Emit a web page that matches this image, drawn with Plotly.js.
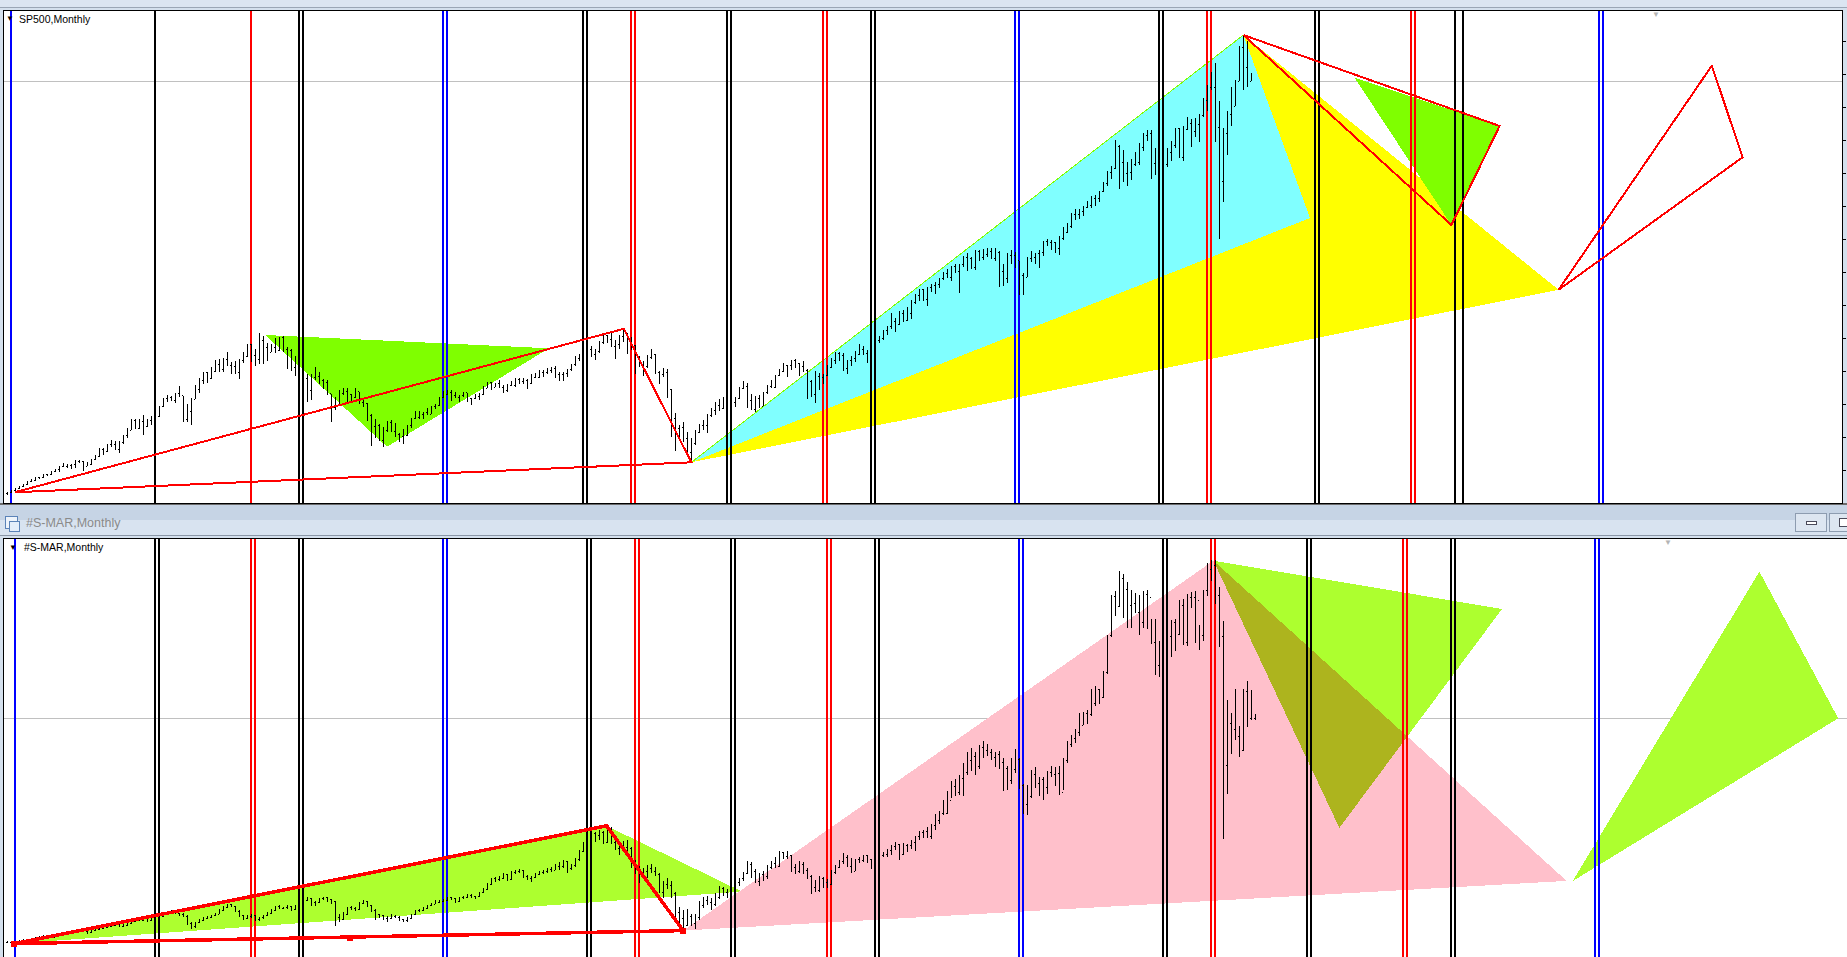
<!DOCTYPE html>
<html><head><meta charset="utf-8">
<script src="https://cdn.plot.ly/plotly-3.0.1.min.js"></script>
<style>html,body{margin:0;padding:0;background:#d4e0ed;overflow:hidden}#chart{width:1847px;height:957px}
#chart .scatterlayer path,#chart .shapelayer path{shape-rendering:crispEdges}</style>
</head><body><div id="chart"></div>
<script>
// ---------------- SP500 monthly (Dec 1994 .. Nov 2020), bar index 0..311 ----------------
const spOpen=[453.7,459.3,470.4,487.4,500.7,514.7,533.4,544.8,562.1,561.9,584.4,581.5,605.4,615.9,636.0,640.4,645.5,654.2,669.1,670.6,639.9,652.0,687.3,705.3,757.0,740.7,786.2,790.8,757.1,801.3,848.3,885.1,954.3,899.5,947.3,914.6,955.4,970.4,980.3,1049.3,1101.8,1111.8,1090.8,1133.8,1120.7,957.3,1017.0,1098.7,1163.6,1229.2,1279.6,1238.3,1286.4,1335.2,1301.8,1372.7,1328.7,1320.4,1282.7,1362.9,1388.9,1469.3,1394.5,1366.4,1498.6,1452.4,1420.6,1454.6,1430.8,1517.7,1436.5,1429.4,1315.2,1320.3,1366.0,1239.9,1160.3,1249.5,1255.8,1224.4,1211.2,1133.6,1040.9,1059.8,1139.5,1148.1,1130.2,1106.7,1147.4,1076.9,1067.1,989.8,911.6,916.1,815.3,885.8,936.3,879.8,855.7,841.2,848.2,916.9,963.6,974.5,990.3,1008.0,996.0,1050.7,1058.2,1111.9,1131.1,1144.9,1126.2,1107.3,1120.7,1140.8,1101.7,1104.2,1114.6,1130.2,1173.8,1211.9,1181.3,1203.6,1180.6,1156.9,1191.5,1191.3,1234.2,1220.3,1228.8,1207.0,1249.5,1248.3,1280.1,1280.7,1294.9,1310.6,1270.1,1270.2,1276.7,1303.8,1335.9,1377.9,1400.6,1418.3,1438.2,1406.8,1420.9,1482.4,1530.6,1503.4,1455.3,1474.0,1526.8,1549.4,1481.1,1468.4,1378.6,1330.6,1322.7,1385.6,1400.4,1280.0,1267.4,1282.8,1166.4,968.8,896.2,903.3,825.9,735.1,797.9,872.8,919.1,919.3,987.5,1020.6,1057.1,1036.2,1095.6,1115.1,1073.9,1104.5,1169.4,1186.7,1089.4,1030.7,1101.6,1049.3,1141.2,1183.3,1180.6,1257.6,1286.1,1327.2,1325.8,1363.6,1345.2,1320.6,1292.3,1218.9,1131.4,1253.3,1247.0,1257.6,1312.4,1365.7,1408.5,1397.9,1310.3,1362.2,1379.3,1406.6,1440.7,1412.2,1416.2,1426.2,1498.1,1514.7,1569.2,1597.6,1630.7,1606.3,1685.7,1633.0,1681.6,1756.5,1805.8,1848.4,1782.6,1859.5,1872.3,1884.0,1923.6,1960.2,1930.7,2003.4,1972.3,2018.1,2067.6,2058.9,1995.0,2104.5,2067.9,2085.5,2107.4,2063.1,2103.8,1972.2,1920.0,2079.4,2080.4,2043.9,1940.2,1932.2,2059.7,2065.3,2097.0,2098.9,2173.6,2171.0,2168.3,2126.2,2198.8,2238.8,2278.9,2363.6,2362.7,2384.2,2411.8,2423.4,2470.3,2471.7,2519.4,2575.3,2647.6,2673.6,2823.8,2713.8,2640.9,2648.1,2705.3,2718.4,2816.3,2901.5,2914.0,2711.7,2760.2,2506.9,2704.1,2784.5,2834.4,2945.8,2752.1,2941.8,2980.4,2926.5,2976.7,3037.6,3141.0,3230.8,3225.5,2954.2,2584.6,2912.4,3044.3,3100.3,3271.1,3500.3,3363.0,3270.0];
const spHigh=[466.9,472,489,503,515,535,551,564,565,587,588,608,622,638,664,656,656,681,680,675,670,690,714,762,762,794,818,815,812,851,899,961,961,960,987,962,986,993,1051,1106,1130,1122,1139,1190,1122,1066,1104,1193,1245,1280,1283,1317,1363,1376,1377,1421,1354,1358,1373,1424,1473,1478,1444,1553,1527,1481,1474,1517,1525,1531,1454,1438,1390,1384,1376,1267,1269,1316,1287,1239,1226,1136,1111,1164,1173,1176,1131,1173,1148,1106,1071,994,965,925,907,951,954,935,864,895,924,965,1015,1015,1011,1040,1054,1063,1112,1155,1158,1163,1150,1128,1146,1141,1109,1132,1142,1188,1217,1217,1212,1229,1192,1199,1219,1246,1245,1243,1233,1270,1276,1295,1297,1310,1318,1326,1285,1281,1306,1340,1390,1407,1432,1441,1462,1439,1498,1535,1540,1556,1503,1539,1576,1553,1524,1471,1396,1359,1397,1440,1405,1292,1314,1303,1167,1007,919,943,876,833,888,930,957,996,1040,1081,1102,1113,1130,1150,1113,1181,1220,1206,1132,1120,1129,1150,1196,1227,1263,1303,1345,1333,1367,1371,1346,1357,1307,1230,1292,1277,1270,1334,1378,1420,1422,1415,1363,1392,1426,1475,1465,1434,1448,1510,1530,1570,1598,1687,1654,1698,1709,1730,1775,1814,1849,1850,1867,1884,1897,1925,1968,1991,2005,2019,2019,2076,2094,2072,2119,2117,2126,2135,2130,2133,2113,2021,2094,2117,2104,2044,1962,2073,2111,2100,2121,2178,2194,2188,2170,2214,2278,2301,2371,2401,2398,2418,2454,2484,2491,2520,2582,2657,2695,2873,2835,2801,2718,2742,2791,2849,2916,2941,2940,2816,2800,2708,2814,2860,2950,2954,2965,3028,3014,3022,3050,3155,3248,3338,3394,3137,2955,3068,3233,3280,3515,3588,3550,3330];
const spLow=[443.3,457,468,481,500,511,530,542,553,561,572,580,601,597,633,627,624,630,662,605,639,649,685,703,716,737,773,756,733,793,832,885,893,891,855,907,924,912,979,1045,1076,1085,1074,1114,940,939,923,1098,1137,1205,1212,1236,1282,1287,1281,1328,1268,1268,1233,1347,1387,1350,1325,1339,1339,1361,1418,1416,1427,1419,1305,1294,1254,1274,1215,1081,1091,1232,1203,1165,1124,944,1026,1054,1124,1081,1074,1106,1063,1048,952,775,833,815,768,873,872,840,806,789,847,902,963,962,960,990,995,1031,1053,1105,1124,1087,1105,1076,1113,1078,1060,1102,1090,1128,1173,1163,1180,1176,1137,1146,1188,1183,1201,1201,1168,1201,1246,1245,1253,1268,1280,1245,1219,1224,1253,1290,1327,1360,1385,1403,1389,1364,1416,1476,1484,1454,1371,1439,1490,1407,1435,1270,1316,1257,1312,1373,1272,1200,1248,1107,840,741,815,805,735,667,784,866,888,869,979,992,1020,1030,1086,1071,1045,1102,1167,1041,1028,1011,1040,1049,1131,1173,1174,1257,1284,1249,1300,1311,1258,1283,1101,1115,1075,1159,1202,1259,1311,1340,1358,1292,1267,1325,1354,1397,1403,1343,1399,1426,1485,1501,1536,1581,1560,1605,1628,1633,1646,1746,1768,1770,1737,1834,1815,1860,1915,1930,1905,1964,1821,2001,1972,1988,1981,2040,2048,2067,2056,2044,1867,1872,1893,2019,1993,1812,1810,1932,2033,2025,1992,2075,2148,2120,2097,2084,2188,2233,2271,2322,2329,2352,2406,2407,2417,2446,2515,2557,2605,2672,2533,2586,2553,2595,2691,2698,2796,2864,2604,2631,2347,2444,2682,2723,2812,2751,2728,2940,2822,2891,2855,3030,3070,3214,2855,2192,2448,2766,2965,3100,3271,3209,3234,3270];
const spClose=[459.3,470.4,487.4,500.7,514.7,533.4,544.8,562.1,561.9,584.4,581.5,605.4,615.9,636.0,640.4,645.5,654.2,669.1,670.6,639.9,652.0,687.3,705.3,757.0,740.7,786.2,790.8,757.1,801.3,848.3,885.1,954.3,899.5,947.3,914.6,955.4,970.4,980.3,1049.3,1101.8,1111.8,1090.8,1133.8,1120.7,957.3,1017.0,1098.7,1163.6,1229.2,1279.6,1238.3,1286.4,1335.2,1301.8,1372.7,1328.7,1320.4,1282.7,1362.9,1388.9,1469.3,1394.5,1366.4,1498.6,1452.4,1420.6,1454.6,1430.8,1517.7,1436.5,1429.4,1315.2,1320.3,1366.0,1239.9,1160.3,1249.5,1255.8,1224.4,1211.2,1133.6,1040.9,1059.8,1139.5,1148.1,1130.2,1106.7,1147.4,1076.9,1067.1,989.8,911.6,916.1,815.3,885.8,936.3,879.8,855.7,841.2,848.2,916.9,963.6,974.5,990.3,1008.0,996.0,1050.7,1058.2,1111.9,1131.1,1144.9,1126.2,1107.3,1120.7,1140.8,1101.7,1104.2,1114.6,1130.2,1173.8,1211.9,1181.3,1203.6,1180.6,1156.9,1191.5,1191.3,1234.2,1220.3,1228.8,1207.0,1249.5,1248.3,1280.1,1280.7,1294.9,1310.6,1270.1,1270.2,1276.7,1303.8,1335.9,1377.9,1400.6,1418.3,1438.2,1406.8,1420.9,1482.4,1530.6,1503.4,1455.3,1474.0,1526.8,1549.4,1481.1,1468.4,1378.6,1330.6,1322.7,1385.6,1400.4,1280.0,1267.4,1282.8,1166.4,968.8,896.2,903.3,825.9,735.1,797.9,872.8,919.1,919.3,987.5,1020.6,1057.1,1036.2,1095.6,1115.1,1073.9,1104.5,1169.4,1186.7,1089.4,1030.7,1101.6,1049.3,1141.2,1183.3,1180.6,1257.6,1286.1,1327.2,1325.8,1363.6,1345.2,1320.6,1292.3,1218.9,1131.4,1253.3,1247.0,1257.6,1312.4,1365.7,1408.5,1397.9,1310.3,1362.2,1379.3,1406.6,1440.7,1412.2,1416.2,1426.2,1498.1,1514.7,1569.2,1597.6,1630.7,1606.3,1685.7,1633.0,1681.6,1756.5,1805.8,1848.4,1782.6,1859.5,1872.3,1884.0,1923.6,1960.2,1930.7,2003.4,1972.3,2018.1,2067.6,2058.9,1995.0,2104.5,2067.9,2085.5,2107.4,2063.1,2103.8,1972.2,1920.0,2079.4,2080.4,2043.9,1940.2,1932.2,2059.7,2065.3,2097.0,2098.9,2173.6,2171.0,2168.3,2126.2,2198.8,2238.8,2278.9,2363.6,2362.7,2384.2,2411.8,2423.4,2470.3,2471.7,2519.4,2575.3,2647.6,2673.6,2823.8,2713.8,2640.9,2648.1,2705.3,2718.4,2816.3,2901.5,2914.0,2711.7,2760.2,2506.9,2704.1,2784.5,2834.4,2945.8,2752.1,2941.8,2980.4,2926.5,2976.7,3037.6,3141.0,3230.8,3225.5,2954.2,2584.6,2912.4,3044.3,3100.3,3271.1,3500.3,3363.0,3270.0,3310.0];

// ---------------- #S-MAR monthly (Nov 1994 .. Nov 2020), bar index 0..312 ----------------
const marOpen=[6.9,7.0,7.1,7.3,7.6,7.9,8.2,8.6,8.8,9.1,9.4,9.2,9.0,9.6,9.8,10.3,10.6,10.9,11.3,11.6,11.0,10.6,11.4,11.9,12.2,12.8,13.1,13.4,13.8,13.1,13.5,14.1,15.0,15.9,15.3,16.0,15.2,15.9,16.4,16.9,17.6,18.4,18.9,18.1,17.6,17.0,14.0,13.2,14.6,15.3,16.2,16.6,17.2,17.8,19.2,20.3,21.4,20.8,18.9,17.3,16.2,16.7,17.3,15.8,16.3,17.2,18.1,19.2,20.6,20.1,20.3,20.8,19.7,20.6,21.2,23.0,23.8,22.1,22.3,23.6,24.1,23.2,22.6,16.4,15.8,17.6,20.2,20.0,19.6,22.0,22.6,21.1,19.2,17.6,17.1,16.2,16.1,17.0,16.6,15.6,15.4,16.0,17.6,19.0,19.1,20.1,21.0,21.6,22.4,22.6,23.1,24.1,23.6,22.6,24.0,24.2,25.0,24.4,24.6,26.1,27.2,29.3,31.4,31.0,31.6,33.0,31.2,33.8,34.1,34.3,32.2,31.6,31.7,33.1,33.6,34.1,35.0,34.6,36.1,36.2,38.0,35.1,36.3,38.6,41.8,45.2,47.8,48.6,48.0,49.0,45.3,50.1,45.2,43.0,44.1,43.4,42.8,37.9,34.2,33.0,34.1,35.2,34.0,32.9,26.2,29.1,28.8,25.6,18.3,16.1,13.5,17.0,14.2,16.6,21.0,23.1,22.2,21.6,24.1,27.6,26.2,26.1,27.3,30.0,31.5,33.5,36.6,34.0,30.1,33.0,32.0,35.5,37.0,36.0,41.5,39.8,40.2,35.6,34.1,36.8,34.5,32.3,28.0,26.9,31.5,30.0,29.2,33.6,35.8,37.8,39.4,36.2,34.1,38.6,38.2,40.1,38.7,37.0,38.0,40.3,40.8,42.2,43.6,44.5,40.6,44.2,43.9,45.2,47.5,49.1,49.6,47.4,51.6,53.7,56.4,56.2,61.4,66.8,64.2,69.8,72.0,76.5,78.0,74.3,81.5,80.4,79.6,77.7,79.0,75.9,73.6,69.0,73.3,77.2,67.1,59.9,62.8,71.2,67.8,69.3,66.3,72.2,71.4,71.6,64.4,76.8,82.7,84.9,87.2,90.0,94.5,94.2,98.4,103.7,100.9,110.2,124.6,139.4,135.7,146.5,142.1,136.0,136.9,133.2,129.5,140.3,139.0,122.0,112.9,119.7,108.6,124.2,129.6,125.1,135.9,121.7,139.0,139.1,137.8,124.4,141.8,150.0,151.4,140.0,124.1,74.8,90.9,88.7,85.7,80.4,102.9,92.6,92.9];
const marHigh=[7.3,7.4,7.5,7.8,8.1,8.4,8.8,9.1,9.4,9.7,9.6,9.4,9.8,10.1,10.5,10.9,11.2,11.5,11.9,11.8,11.2,11.6,12.1,12.5,13.1,13.4,13.7,14.2,14.0,13.8,14.4,15.3,16.3,16.1,16.3,16.2,16.2,16.7,17.3,17.9,18.7,19.3,19.0,18.3,18.1,17.3,14.6,14.9,15.9,16.6,17.0,17.6,18.1,19.6,20.7,21.8,21.7,21.0,19.2,17.6,17.3,17.7,17.5,16.8,17.6,18.5,19.6,21.0,21.2,20.6,21.3,21.0,21.2,21.7,23.4,24.3,24.0,22.9,24.1,24.5,24.4,23.6,22.8,17.9,18.6,20.6,20.7,20.4,22.4,23.0,22.9,21.3,19.6,18.0,17.6,16.9,17.7,17.4,16.9,16.0,16.5,17.9,19.4,19.9,20.4,21.3,22.0,23.0,23.1,23.5,24.4,24.5,24.0,24.4,24.6,25.4,25.3,24.9,26.4,27.6,29.7,31.8,32.0,32.2,33.5,33.3,34.3,34.8,35.1,34.6,32.7,32.3,33.6,34.3,34.8,35.4,35.7,37.1,37.6,38.5,38.2,36.9,39.1,42.3,45.6,48.6,49.4,49.4,50.0,49.6,52.0,51.2,46.8,44.8,45.9,46.2,43.5,38.6,36.2,35.4,36.5,37.0,36.0,33.7,30.6,31.8,30.6,26.3,20.5,19.5,19.9,17.9,17.8,22.7,24.3,24.8,23.8,25.9,28.7,28.2,27.3,28.1,30.5,31.8,34.0,38.0,37.6,35.0,33.6,34.3,36.6,38.0,39.8,41.9,41.7,42.0,40.3,37.0,38.2,37.8,35.4,32.6,30.8,32.3,32.0,31.4,34.6,36.5,38.5,41.1,40.3,39.3,39.0,39.8,40.4,40.3,38.8,38.3,40.7,41.4,42.8,44.1,45.5,44.6,45.0,44.6,46.0,47.9,49.6,50.0,51.0,52.4,56.1,57.2,61.4,64.8,68.9,69.6,70.9,75.6,79.8,81.6,79.9,82.5,84.3,83.1,81.0,79.8,80.2,77.5,74.5,77.6,80.9,77.6,67.6,67.2,73.0,74.0,70.2,70.3,72.8,74.6,74.0,74.5,77.6,84.3,86.5,88.7,95.0,95.3,96.0,104.2,105.0,104.0,111.0,124.8,140.0,141.6,149.2,148.0,145.0,142.1,141.0,140.1,141.6,141.9,130.8,130.7,122.6,122.8,124.3,130.5,130.7,138.3,138.4,140.6,141.1,141.6,128.6,142.0,152.3,153.3,153.4,143.2,130.0,99.7,95.0,103.9,90.0,104.0,107.0,103.6,94.5];
const marLow=[6.7,6.8,7.0,7.2,7.5,7.8,8.1,8.5,8.7,9.0,8.9,8.7,8.9,9.4,9.7,10.1,10.4,10.7,11.1,10.8,10.1,10.5,11.2,11.7,12.0,12.5,12.9,13.2,12.8,12.7,13.4,13.9,14.8,15.0,15.1,14.6,15.0,15.7,16.0,16.8,17.4,18.2,17.8,17.1,16.7,13.6,12.2,12.6,14.5,15.1,15.9,16.4,16.9,17.7,19.0,20.0,20.4,18.6,16.8,15.4,16.0,16.4,15.1,15.2,16.0,16.9,17.9,19.0,19.7,19.6,19.9,19.0,19.4,20.4,20.9,22.7,20.8,20.7,22.1,23.1,22.6,21.8,13.3,14.9,15.4,17.3,19.2,18.9,19.4,21.5,20.6,18.6,15.4,16.3,15.6,14.8,16.0,16.2,15.2,14.6,14.9,15.8,17.3,18.7,18.9,19.8,20.7,21.5,22.0,22.3,22.8,23.2,21.9,22.4,23.4,24.0,23.8,23.4,24.5,25.8,27.0,29.1,30.0,30.5,31.1,30.3,30.9,33.1,33.5,31.6,30.7,30.0,31.5,32.8,33.1,33.7,33.8,34.5,34.7,35.5,33.6,34.6,35.8,38.2,41.5,44.8,47.2,45.6,46.2,44.8,45.1,44.6,42.2,40.3,42.2,42.1,35.3,33.2,29.6,32.4,31.5,33.6,32.3,26.1,24.1,27.3,23.8,15.6,13.0,11.8,13.4,13.4,12.0,15.6,20.2,21.4,19.5,21.0,23.6,24.6,24.0,25.5,26.2,28.6,30.5,33.0,31.5,29.6,28.5,30.5,31.2,35.0,35.5,35.9,38.8,38.8,33.9,33.2,33.6,33.2,31.3,25.6,26.3,26.4,27.6,27.6,29.1,33.1,35.4,37.1,35.8,33.6,34.2,37.4,37.8,37.5,34.9,35.8,37.6,39.7,39.7,40.6,42.4,38.4,40.5,41.4,42.9,41.9,46.3,46.9,47.0,46.7,50.1,52.4,55.7,56.0,62.4,63.0,63.5,63.2,71.1,72.5,71.1,73.4,77.6,78.4,76.8,74.0,73.3,65.1,65.5,67.5,72.0,65.6,56.2,55.8,62.2,66.1,62.9,61.4,63.7,70.3,66.8,63.6,65.3,75.6,81.8,83.3,86.0,90.3,90.5,93.6,97.5,98.4,100.4,109.7,123.8,132.2,135.3,131.1,127.3,127.5,133.3,124.9,127.3,127.2,121.3,109.5,108.5,100.1,103.0,116.3,118.6,124.6,121.0,120.4,135.0,121.8,118.8,122.3,139.5,145.3,136.7,120.0,46.6,63.8,79.0,84.4,78.0,80.1,89.4,92.0,92.0];
const marClose=[7.0,7.1,7.3,7.6,7.9,8.2,8.6,8.8,9.1,9.4,9.2,9.0,9.6,9.8,10.3,10.6,10.9,11.3,11.6,11.0,10.6,11.4,11.9,12.2,12.8,13.1,13.4,13.8,13.1,13.5,14.1,15.0,15.9,15.3,16.0,15.2,15.9,16.4,16.9,17.6,18.4,18.9,18.1,17.6,17.0,14.0,13.2,14.6,15.3,16.2,16.6,17.2,17.8,19.2,20.3,21.4,20.8,18.9,17.3,16.2,16.7,17.3,15.8,16.3,17.2,18.1,19.2,20.6,20.1,20.3,20.8,19.7,20.6,21.2,23.0,23.8,22.1,22.3,23.6,24.1,23.2,22.6,16.4,15.8,17.6,20.2,20.0,19.6,22.0,22.6,21.1,19.2,17.6,17.1,16.2,16.1,17.0,16.6,15.6,15.4,16.0,17.6,19.0,19.1,20.1,21.0,21.6,22.4,22.6,23.1,24.1,23.6,22.6,24.0,24.2,25.0,24.4,24.6,26.1,27.2,29.3,31.4,31.0,31.6,33.0,31.2,33.8,34.1,34.3,32.2,31.6,31.7,33.1,33.6,34.1,35.0,34.6,36.1,36.2,38.0,35.1,36.3,38.6,41.8,45.2,47.8,48.6,48.0,49.0,45.3,50.1,45.2,43.0,44.1,43.4,42.8,37.9,34.2,33.0,34.1,35.2,34.0,32.9,26.2,29.1,28.8,25.6,18.3,16.1,13.5,17.0,14.2,16.6,21.0,23.1,22.2,21.6,24.1,27.6,26.2,26.1,27.3,30.0,31.5,33.5,36.6,34.0,30.1,33.0,32.0,35.5,37.0,36.0,41.5,39.8,40.2,35.6,34.1,36.8,34.5,32.3,28.0,26.9,31.5,30.0,29.2,33.6,35.8,37.8,39.4,36.2,34.1,38.6,38.2,40.1,38.7,37.0,38.0,40.3,40.8,42.2,43.6,44.5,40.6,44.2,43.9,45.2,47.5,49.1,49.6,47.4,51.6,53.7,56.4,56.2,61.4,66.8,64.2,69.8,72.0,76.5,78.0,74.3,81.5,80.4,79.6,77.7,79.0,75.9,73.6,69.0,73.3,77.2,67.1,59.9,62.8,71.2,67.8,69.3,66.3,72.2,71.4,71.6,64.4,76.8,82.7,84.9,87.2,90.0,94.5,94.2,98.4,103.7,100.9,110.2,124.6,139.4,135.7,146.5,142.1,136.0,136.9,133.2,129.5,140.3,139.0,122.0,112.9,119.7,108.6,124.2,129.6,125.1,135.9,121.7,139.0,139.1,137.8,124.4,141.8,150.0,151.4,140.0,124.1,74.8,90.9,88.7,85.7,80.4,102.9,92.6,92.9,93.3];

// ---------------- vertical cycle lines (bar index) ----------------
const spBlackLines=[37,73,74,144,145,180,181,216,217,288,289,327,328,362,364];
const spRedLines=[61,156,157,204,205,300,301,351,352];
const spBlueLines=[1,109,110,252,253,398,399];
const marBlackLines=[37,38,73,74,145,146,181,182,217,218,289,290,325,326,361,362];
const marRedLines=[61,62,157,158,205,206,301,302,349,350];
const marBlueLines=[2,109,110,253,254,397,398];

// ---------------- drawn objects (bar index, price) ----------------
const spBidPrice=3273, marBidPrice=92.8;
const spYellowX=[171.1,309.1,387.9], spYellowY=[666.5,3587.6,1845.8];
const spCyanX=[171.1,309.1,325.75], spCyanY=[666.5,3587.6,2336.6];
const spGreenLowX=[64.55,135.5,95], spGreenLowY=[1536.8,1445.9,773.2];
const spGreenHighX=[336.9,373.15,361.1], spGreenHighY=[3295.7,2965.5,2288.8];
const spEdgeX=[171.1,309.1], spEdgeY=[666.5,3587.6];
const spRedTriX=[1.93,154.2,171.1,1.93], spRedTriY=[461.5,1579.2,666.5,461.5];
const spRedPeakX=[309.1,373.15,361.1,309.1], spRedPeakY=[3587.6,2965.5,2288.8,3587.6];
const spRedFarX=[387.9,426.2,433.9,387.9], spRedFarY=[1845.8,3377.8,2751.6,1845.8];

const marGreenLeftX=[1.78,149.9,183.75], marGreenLeftY=[6.48,51.6,26.4];
const marPinkX=[169.05,301.6,389.9], marPinkY=[11.46,153.2,30.5];
const marGreenUpX=[301.6,373.75,333.1], marGreenUpY=[153.2,134.7,50.8];
const marGreenFarX=[391.4,438.1,457.8], marGreenFarY=[30.4,149,92.8];
const marRedTriX=[1.78,149.9,169.05,1.78], marRedTriY=[6.48,51.6,11.46,6.48];
const marAnchorX=[1.78,85.7,169.05], marAnchorY=[6.48,8.7,11.46];

// ---------------- build ----------------
const W=1847,H=957;
const PX=x=>x/W, PY=y=>1-y/H;

function vlines(xs,lo,hi,color,xa,ya){
  const x=[],y=[];
  xs.forEach(v=>{x.push(v,v,null);y.push(lo,hi,null);});
  return {type:'scatter',mode:'lines',x,y,xaxis:xa,yaxis:ya,line:{color,width:2},hoverinfo:'skip',showlegend:false};
}
function poly(xs,ys,color,w,xa,ya){
  return {type:'scatter',mode:'lines',x:xs,y:ys,line:{color,width:w},xaxis:xa,yaxis:ya,hoverinfo:'skip',showlegend:false};
}
// OHLC bars drawn as line segments (high-low stem, open tick left, close tick right)
function ohlcBars(o,h,l,c,xa,ya){
  const x=[],y=[],t=0.3;
  c.forEach((cv,i)=>{
    x.push(i,i,null,i-t,i,null,i,i+t,null);
    y.push(l[i],h[i],null,o[i],o[i],null,cv,cv,null);
  });
  return {type:'scatter',mode:'lines',x,y,xaxis:xa,yaxis:ya,line:{color:'#000',width:1},hoverinfo:'skip',showlegend:false};
}
function pathOf(xs,ys){return 'M'+xs.map((v,i)=>v+','+ys[i]).join(' L')+' Z';}
function triShape(xs,ys,color,xr,yr){
  return {type:'path',xref:xr,yref:yr,path:pathOf(xs,ys),fillcolor:color,line:{width:0},layer:'below'};
}
function clipPolygon(subj,clip){
  let out=subj.slice();
  let area=0;for(let k=0;k<clip.length;k++){const p=clip[k],q=clip[(k+1)%clip.length];area+=p[0]*q[1]-q[0]*p[1];}
  const sg=area>0?1:-1;
  for(let k=0;k<clip.length&&out.length;k++){
    const a=clip[k],b=clip[(k+1)%clip.length];
    const ins=p=>sg*((b[0]-a[0])*(p[1]-a[1])-(b[1]-a[1])*(p[0]-a[0]))>=0;
    const inter=(p,q)=>{const d1x=q[0]-p[0],d1y=q[1]-p[1],d2x=b[0]-a[0],d2y=b[1]-a[1];
      const den=d1x*d2y-d1y*d2x;const t=((a[0]-p[0])*d2y-(a[1]-p[1])*d2x)/den;return [p[0]+t*d1x,p[1]+t*d1y];};
    const inp=out;out=[];
    for(let m=0;m<inp.length;m++){const cur=inp[m],prev=inp[(m+inp.length-1)%inp.length];
      if(ins(cur)){if(!ins(prev))out.push(inter(prev,cur));out.push(cur);}else if(ins(prev))out.push(inter(prev,cur));}
  }
  return out;
}
const zip=(xs,ys)=>xs.map((v,i)=>[v,ys[i]]);
const ov=clipPolygon(zip(marGreenUpX,marGreenUpY),zip(marPinkX,marPinkY));

const traces=[
  vlines(spBlackLines,0,5000,'#000000','x','y'),
  vlines(spRedLines,0,5000,'#FF0000','x','y'),
  vlines(spBlueLines,0,5000,'#0000FF','x','y'),
  ohlcBars(spOpen,spHigh,spLow,spClose,'x','y'),
  poly(spRedTriX,spRedTriY,'#FF0000',2,'x','y'),
  poly(spRedPeakX,spRedPeakY,'#FF0000',2,'x','y'),
  poly(spRedFarX,spRedFarY,'#FF0000',2,'x','y'),
  vlines(marBlackLines,-10,300,'#000000','x2','y2'),
  vlines(marRedLines,-10,300,'#FF0000','x2','y2'),
  vlines(marBlueLines,-10,300,'#0000FF','x2','y2'),
  ohlcBars(marOpen,marHigh,marLow,marClose,'x2','y2'),
  poly(marRedTriX,marRedTriY,'#FF0000',3.5,'x2','y2'),
  {type:'scatter',mode:'markers',x:marAnchorX,y:marAnchorY,marker:{symbol:'square',size:6,color:'#FF0000'},xaxis:'x2',yaxis:'y2',hoverinfo:'skip',showlegend:false}
];

const hidden={showgrid:false,zeroline:false,showticklabels:false,ticks:'',showline:false,fixedrange:true};
const shapes=[
  // top window strip
  {type:'rect',xref:'paper',yref:'paper',x0:0,x1:1,y0:PY(7),y1:1,fillcolor:'#dbe5f1',line:{width:0},layer:'below'},
  {type:'line',xref:'paper',yref:'paper',x0:0,x1:1,y0:PY(7.5),y1:PY(7.5),line:{color:'#9aa6b5',width:1}},
  // title bar between windows
  {type:'rect',xref:'paper',yref:'paper',x0:0,x1:1,y0:PY(520),y1:PY(504),fillcolor:'#c6d4e5',line:{width:0},layer:'below'},
  {type:'rect',xref:'paper',yref:'paper',x0:0,x1:1,y0:PY(535),y1:PY(520),fillcolor:'#d8e3f0',line:{width:0},layer:'below'},
  {type:'line',xref:'paper',yref:'paper',x0:0,x1:1,y0:PY(504),y1:PY(504),line:{color:'#6b6b6b',width:2}},
  {type:'line',xref:'paper',yref:'paper',x0:0,x1:1,y0:PY(535.5),y1:PY(535.5),line:{color:'#8a96a6',width:1}},
  // window icon
  {type:'rect',xref:'paper',yref:'paper',x0:PX(5),x1:PX(17),y0:PY(528),y1:PY(516),fillcolor:'#eef4fb',line:{color:'#5b83b8',width:1}},
  {type:'rect',xref:'paper',yref:'paper',x0:PX(9),x1:PX(19),y0:PY(531),y1:PY(521),fillcolor:'#e4eefa',line:{color:'#5b83b8',width:1}},
  // buttons
  {type:'rect',xref:'paper',yref:'paper',x0:PX(1795.5),x1:PX(1826),y0:PY(531),y1:PY(513),fillcolor:'#dde6f1',line:{color:'#8d9cb0',width:1}},
  {type:'rect',xref:'paper',yref:'paper',x0:PX(1806),x1:PX(1816),y0:PY(524.5),y1:PY(521),fillcolor:'#ffffff',line:{color:'#4a4a5a',width:1}},
  {type:'rect',xref:'paper',yref:'paper',x0:PX(1829.5),x1:PX(1860),y0:PY(531),y1:PY(513),fillcolor:'#dde6f1',line:{color:'#8d9cb0',width:1}},
  {type:'rect',xref:'paper',yref:'paper',x0:PX(1839),x1:PX(1850),y0:PY(526),y1:PY(518),fillcolor:'#ffffff',line:{color:'#4a4a5a',width:1}},
  // top chart: bid line, filled triangles (under bars)
  {type:'line',xref:'x',yref:'y',x0:-5,x1:470,y0:spBidPrice,y1:spBidPrice,line:{color:'#c0c0c0',width:1},layer:'below'},
  triShape(spYellowX,spYellowY,'#FFFF00','x','y'),
  triShape(spCyanX,spCyanY,'#80FFFF','x','y'),
  triShape(spGreenLowX,spGreenLowY,'#7FFF00','x','y'),
  triShape(spGreenHighX,spGreenHighY,'#7FFF00','x','y'),
  {type:'line',xref:'x',yref:'y',x0:spEdgeX[0],x1:spEdgeX[1],y0:spEdgeY[0],y1:spEdgeY[1],line:{color:'#7FFF00',width:1},layer:'below'},
  // bottom chart
  {type:'line',xref:'x2',yref:'y2',x0:-5,x1:470,y0:marBidPrice,y1:marBidPrice,line:{color:'#c0c0c0',width:1},layer:'below'},
  triShape(marGreenLeftX,marGreenLeftY,'#ADFF2F','x2','y2'),
  triShape(marPinkX,marPinkY,'#FFC0CB','x2','y2'),
  triShape(marGreenUpX,marGreenUpY,'#ADFF2F','x2','y2'),
  triShape(ov.map(p=>p[0]),ov.map(p=>p[1]),'#ADB41E','x2','y2'),
  triShape(marGreenFarX,marGreenFarY,'#ADFF2F','x2','y2'),
  // frames
  {type:'rect',xref:'paper',yref:'paper',x0:PX(3),x1:PX(1842),y0:PY(503),y1:PY(10),fillcolor:'rgba(0,0,0,0)',line:{color:'#000',width:1},layer:'above'},
  {type:'rect',xref:'paper',yref:'paper',x0:PX(3),x1:PX(1852),y0:PY(962),y1:PY(538),fillcolor:'rgba(0,0,0,0)',line:{color:'#000',width:1},layer:'above'}
];
const fnt={family:'"Liberation Sans Narrow","Liberation Sans",Arial,sans-serif',size:10.5,color:'#000'};
const annotations=[
  {xref:'paper',yref:'paper',x:PX(17),y:PY(19),text:'SP500,Monthly',showarrow:false,xanchor:'left',yanchor:'middle',font:fnt},
  {xref:'paper',yref:'paper',x:PX(10),y:PY(18),text:'▼',showarrow:false,xanchor:'center',yanchor:'middle',font:{size:8,color:'#000'}},
  {xref:'paper',yref:'paper',x:PX(22),y:PY(547),text:'#S-MAR,Monthly',showarrow:false,xanchor:'left',yanchor:'middle',font:fnt},
  {xref:'paper',yref:'paper',x:PX(13),y:PY(546),text:'▼',showarrow:false,xanchor:'center',yanchor:'middle',font:{size:8,color:'#000'}},
  {xref:'paper',yref:'paper',x:PX(24),y:PY(522.5),text:'#S-MAR,Monthly',showarrow:false,xanchor:'left',yanchor:'middle',font:{family:'"Liberation Sans",Arial,sans-serif',size:12.5,color:'#8a8a8a'}},
  {xref:'paper',yref:'paper',x:PX(1656),y:PY(13),text:'▼',showarrow:false,xanchor:'center',yanchor:'middle',font:{size:8,color:'#b4b4b4'}},
  {xref:'paper',yref:'paper',x:PX(1668),y:PY(541),text:'▼',showarrow:false,xanchor:'center',yanchor:'middle',font:{size:8,color:'#b4b4b4'}}
];
const layout={
  width:W,height:H,margin:{l:0,r:0,t:0,b:0},paper_bgcolor:'#d4e0ed',plot_bgcolor:'#ffffff',showlegend:false,hovermode:false,
  xaxis:Object.assign({},hidden,{domain:[PX(3),PX(1842)],range:[-1,458.75],anchor:'y'}),
  yaxis:Object.assign({},hidden,{domain:[PY(503),PY(10)],range:[388.3,3758.6],anchor:'x',side:'right',ticks:'outside',ticklen:3,tickwidth:1,tickcolor:'#000',tick0:3546.6,dtick:225.6}),
  xaxis2:Object.assign({},hidden,{domain:[PX(3),1],range:[-1,460],anchor:'y2'}),
  yaxis2:Object.assign({},hidden,{domain:[0,PY(538)],range:[1.34,161.9],anchor:'x2'}),
  shapes,annotations
};
Plotly.newPlot('chart',traces,layout,{staticPlot:true,displayModeBar:false});
</script></body></html>
